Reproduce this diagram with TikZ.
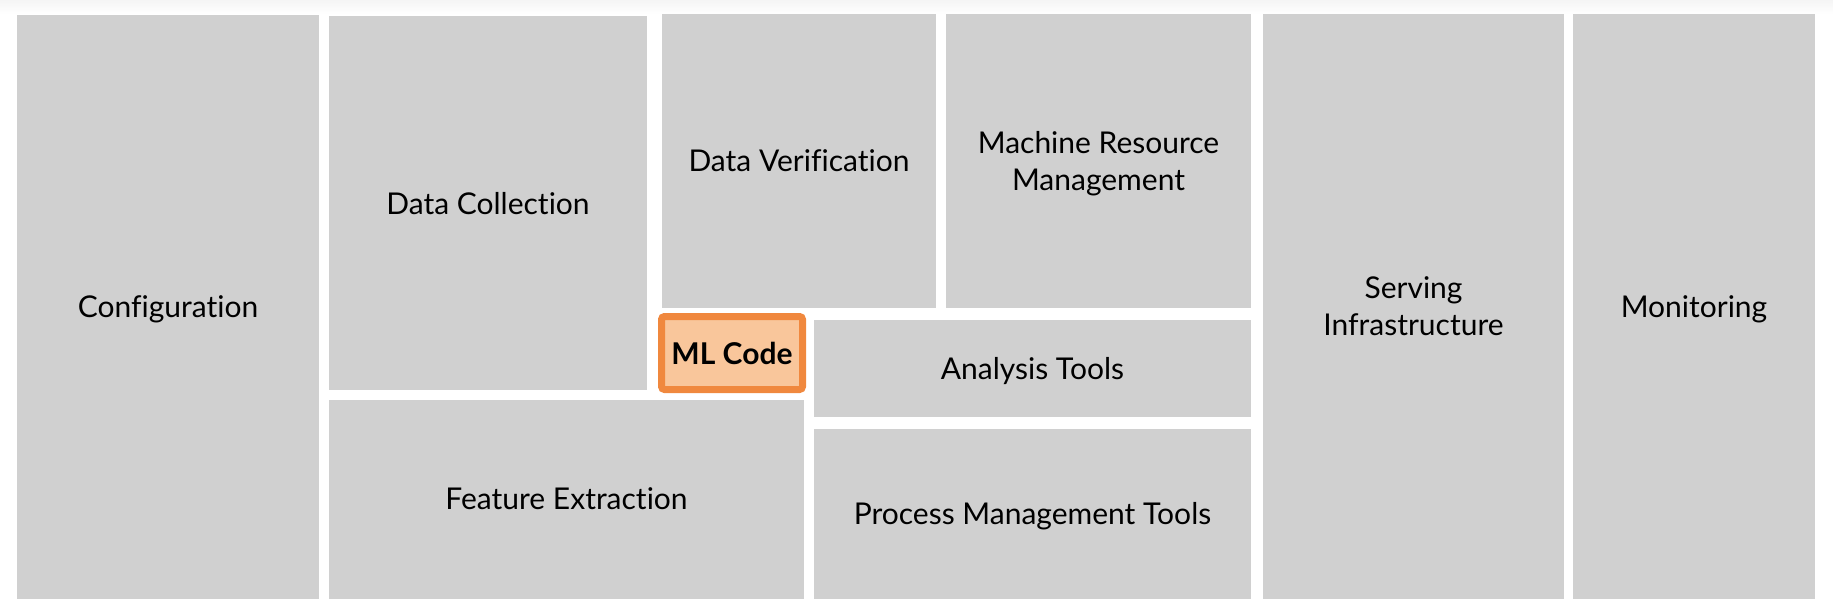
\documentclass[tikz,border=0pt]{standalone}
\usepackage{fontspec}
\setmainfont{Lato}[Ligatures=CommonOff]
\usepackage{tikz}

\definecolor{boxgray}{HTML}{D0D0D0}
\definecolor{codeorange}{HTML}{F0883E}
\definecolor{codefill}{HTML}{F9C69B}

\begin{document}
\begin{tikzpicture}[
x=1pt,y=-1pt,
part/.style={
  fill=boxgray,
  inner sep=0pt,
  outer sep=0pt,
  text depth=0pt,
  align=center,
  font=\fontsize{30}{37}\selectfont
},
core/.style={
  part,
  draw=codeorange,
  fill=codefill,
  line width=7pt,
  rounded corners=3pt,
  font=\fontsize{30}{37}\selectfont\bfseries
}
]
\useasboundingbox (0,0) rectangle (1833,610);
\fill[top color=gray!8,bottom color=white] (0,0) rectangle (1833,14);

\node[part,minimum width=302,minimum height=584] at (168,307)
  (config) {Configuration};
\node[part,minimum width=318,minimum height=374] at (488,203)
  (datacoll) {Data Collection};
\node[part,minimum width=274,minimum height=293] at (799,161)
  (dataverif) {Data Verification};
\node[part,minimum width=305,minimum height=293] at (1098.5,161)
  (mrmgmt) {Machine Resource\\Management};
\node[core,minimum width=141,minimum height=73] at (732,353)
  (mlcode) {ML Code};
\node[part,minimum width=437,minimum height=97] at (1032.5,368)
  (analysis) {Analysis Tools};
\node[part,minimum width=475,minimum height=199] at (566.5,499)
  (feature) {Feature Extraction};
\node[part,minimum width=437,minimum height=170] at (1032.5,513.5)
  (procmgmt) {Process Management Tools};
\node[part,minimum width=301,minimum height=584] at (1413.5,306.5)
  (serving) {Serving\\Infrastructure};
\node[part,minimum width=242,minimum height=584] at (1694,306.5)
  (monitoring) {Monitoring};

\end{tikzpicture}
\end{document}
